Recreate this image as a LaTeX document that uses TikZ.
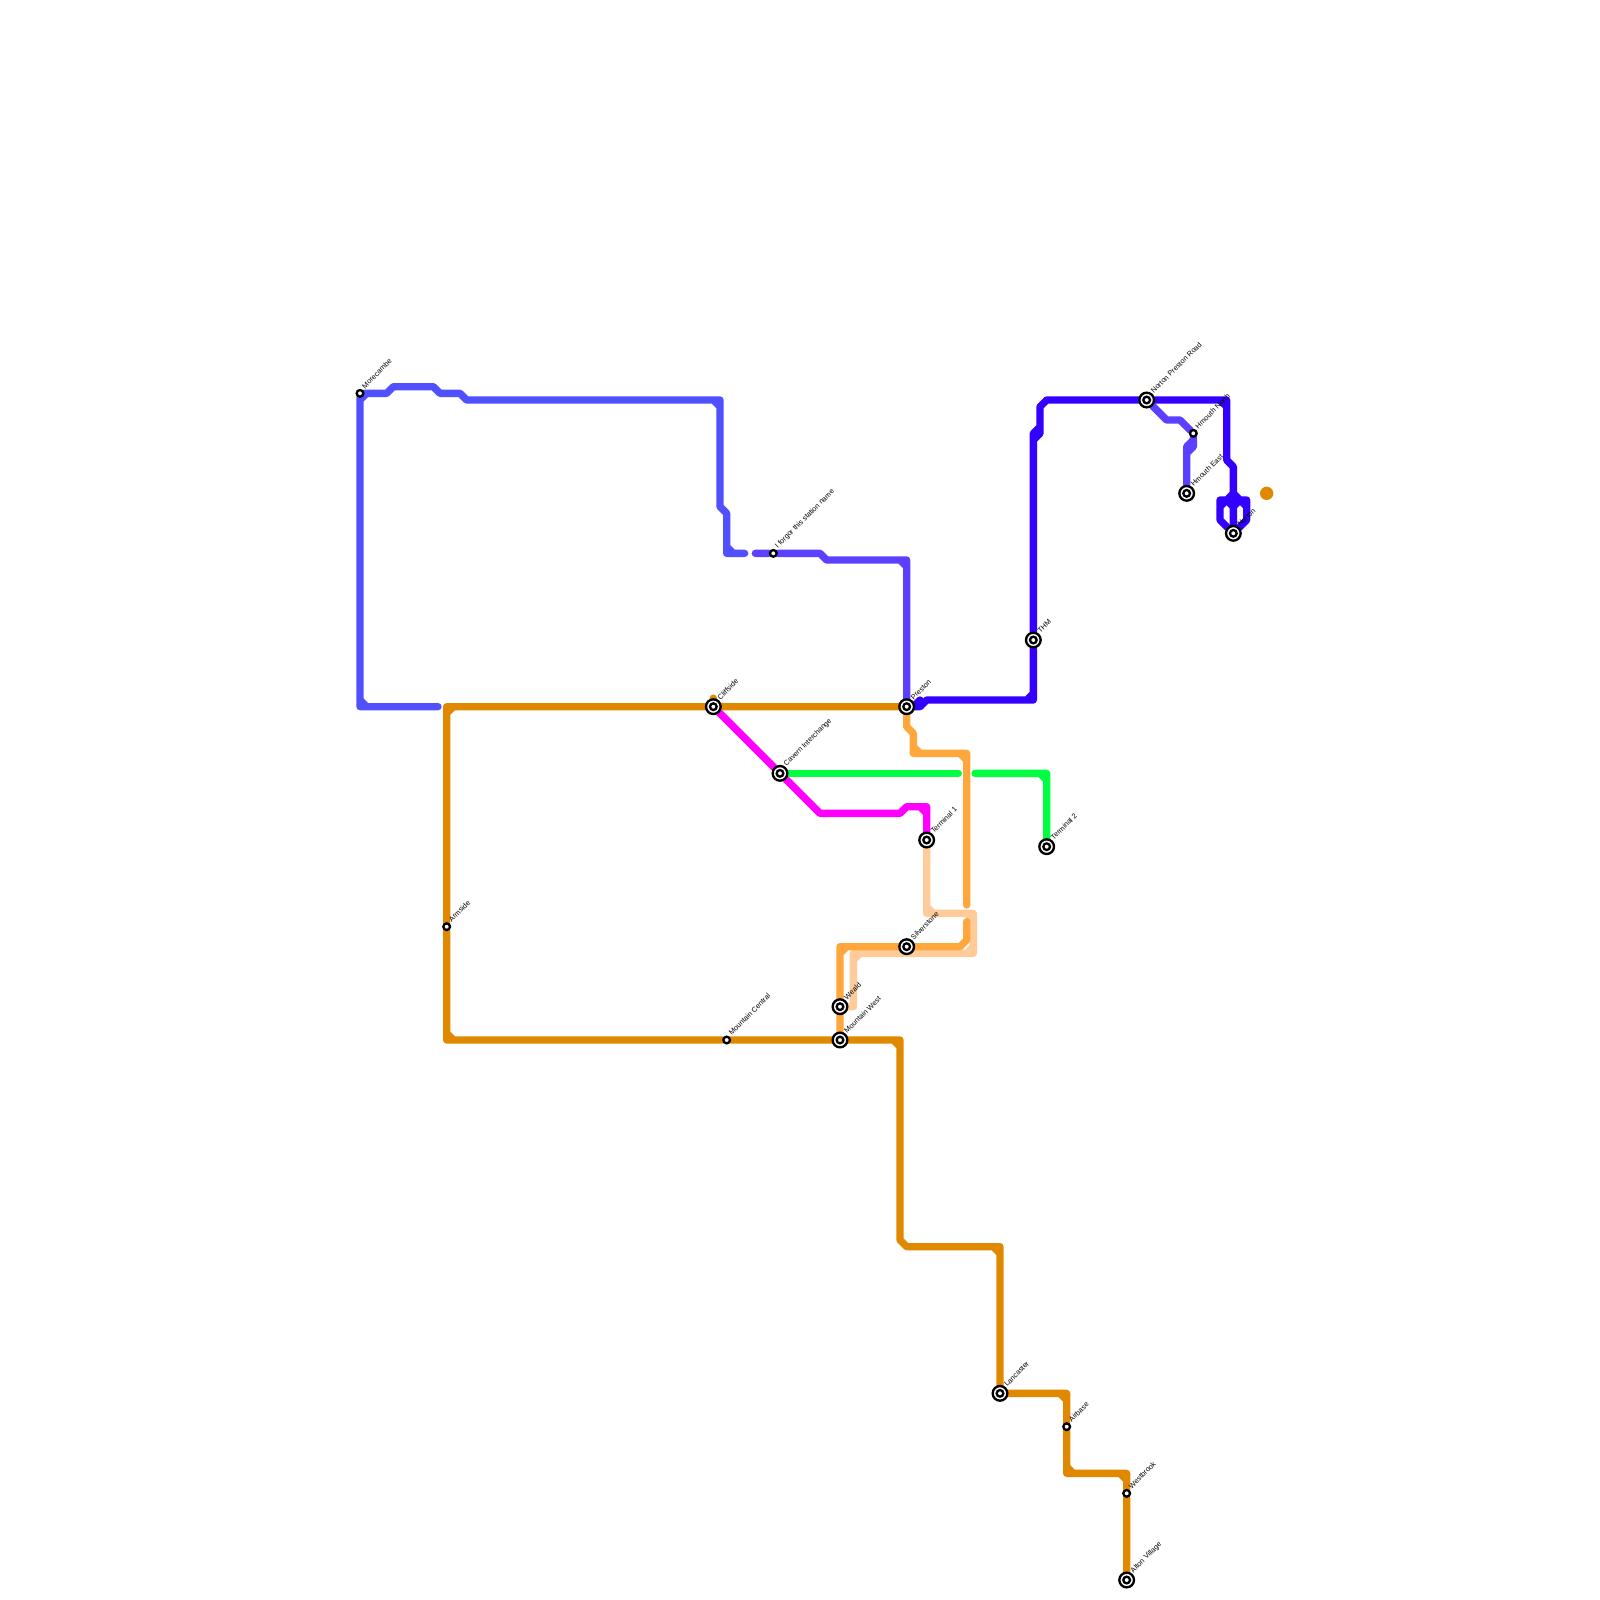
\documentclass[tikz,border=0pt]{standalone}
\usepackage{fontspec}
\setmainfont{Liberation Sans}
\usetikzlibrary{backgrounds}
\definecolor{westblue}{RGB}{80,80,255}
\definecolor{midblue}{RGB}{92,64,255}
\definecolor{deepblue}{RGB}{51,0,255}
\definecolor{darkorange}{RGB}{224,136,0}
\definecolor{midorange}{RGB}{255,166,61}
\definecolor{paleorange}{RGB}{255,204,153}
\definecolor{airportgreen}{RGB}{0,255,64}
\definecolor{loopmagenta}{RGB}{255,0,255}
\begin{document}
\begin{tikzpicture}[
      x=0.1cm, y=-0.1cm,
      route/.style={line width=0.11cm, line cap=round, line join=round},
      lbl/.style={font=\fontsize{3.1}{3.1}\selectfont, anchor=west, rotate=45, inner sep=0pt, text=black},
      halt/.style={circle, draw=black, line width=0.035cm, fill=white, minimum size=0.1cm, inner sep=0pt},
      hub/.style={circle, draw=black, line width=0.035cm, fill=white, minimum size=0.22cm, inner sep=0pt,
        path picture={\draw[line width=0.035cm] (path picture bounding box.center) circle (0.05cm);}},
      haltlbl/.style={lbl, xshift=0.025cm, yshift=0.03cm},
      hublbl/.style={lbl, xshift=0.01cm, yshift=0.03cm},
    ]
      \useasboundingbox (0,0) rectangle (240,240);
      % stations
      \node[halt,label={[haltlbl]45:Morecambe}] (morecambe) at (54,59) {};
      \node[halt,label={[haltlbl]45:Armside}] (armside) at (67,139) {};
      \node[hub,label={[hublbl]45:Cliffside}] (cliffside) at (107,106) {};
      \node[halt,label={[haltlbl]45:Mountain Central}] (mcentral) at (109,156) {};
      \node[halt,label={[haltlbl]45:I forgor this station name}] (forgor) at (116,83) {};
      \node[hub,label={[hublbl]45:Cavern Interchange}] (cavern) at (117,116) {};
      \node[hub,label={[hublbl]45:Weald}] (weald) at (126,151) {};
      \node[hub,label={[hublbl]45:Mountain West}] (mwest) at (126,156) {};
      \node[hub,label={[hublbl]45:Preston}] (preston) at (136,106) {};
      \node[hub,label={[hublbl]45:Silverstone}] (silverstone) at (136,142) {};
      \node[hub,label={[hublbl]45:Terminal 1}] (terma) at (139,126) {};
      \node[hub,label={[hublbl]45:Terminal 2}] (termb) at (157,127) {};
      \node[hub,label={[hublbl]45:THM}] (thm) at (155,96) {};
      \node[hub,label={[hublbl]45:Norton Preston Road}] (nprestonrd) at (172,60) {};
      \node[halt,label={[haltlbl]45:Hmouth North}] (hnorth) at (179,65) {};
      \node[hub,label={[hublbl]45:Hmouth East}] (heast) at (178,74) {};
      \node[hub,label={[hublbl]45:Norton}] (norton) at (185,80) {};
      \node[hub,label={[hublbl]45:Lancaster}] (lancaster) at (150,209) {};
      \node[halt,label={[haltlbl]45:Airbase}] (airbase) at (160,214) {};
      \node[halt,label={[haltlbl]45:Westbrook}] (westbrook) at (169,224) {};
      \node[hub,label={[hublbl]45:Alton Village}] (alton) at (169,237) {};
      \node[circle, fill=darkorange, minimum size=0.2cm, inner sep=0pt] (orangedot) at (190,74) {};
      \begin{scope}[on background layer]
      % coast line
      \draw[route, westblue] (65.7,106) -- (54,106) -- (morecambe) -- (58,59) -- (59,58) -- (65,58) -- (66,59)
        -- (69,59) -- (70,60) -- (108,60) -- (108,76) -- (109,77) -- (109,83) -- (111.7,83)
        (54,105) -- (55,106) (54,60) -- (55,59) (107,60) -- (108,61) (109,82) -- (110,83);
      % forgor to preston, hmouth branch
      \draw[route, midblue] (113.3,83) -- (forgor) -- (123,83) -- (124,84) -- (136,84) -- (preston)
        (135,84) -- (136,85);
      \draw[route, midblue] (nprestonrd) -- (175,63) -- (177,63) -- (hnorth) -- (179,67) -- (178,68) -- (heast)
        (179,66) -- (178,67) -- (178,68);
      % deep blue
      \draw[route, deepblue] (preston) -- (138,106) -- (139,105) -- (155,105) -- (thm) -- (155,65) -- (156,64)
        -- (156,61) -- (157,60) -- (nprestonrd) -- (184,60) -- (184,69) -- (185,70) -- (norton)
        (137,106) -- (138,105) (154,105) -- (155,104) (155,66) -- (156,65) -- (156,64) (183,60) -- (184,61);
      \draw[route, deepblue] (183,75) -- (187,75) -- (187,78) -- (norton) (183,75) -- (183,78) -- (norton)
        (183,76) -- (185,74) -- (187,76) (184,75) -- (185,76) -- (186,75);
      % dark orange
      \draw[route, darkorange] (67,106) -- (cliffside) -- (preston) (67,106) -- (armside) -- (67,156)
        -- (mcentral) -- (mwest) -- (135,156) -- (135,186) -- (136,187) -- (150,187) -- (lancaster)
        -- (160,209) -- (airbase) -- (160,221) -- (169,221) -- (westbrook) -- (alton)
        (67,107) -- (68,106) (67,155) -- (68,156) (134,156) -- (135,157) (149,187) -- (150,188)
        (159,209) -- (160,210) (160,220) -- (161,221) (168,221) -- (169,222)
        (107,105) -- (cliffside);
      % pale orange under mid orange
      \draw[route, paleorange] (terma) -- (139,137) -- (146,137) -- (146,143) -- (128,143) -- (128,151) -- (weald)
        (139,136) -- (140,137) (145,137) -- (146,138) (145,143) -- (146,142) (128,144) -- (129,143);
      % mid orange
      \draw[route, midorange] (preston) -- (136,109) -- (137,110) -- (137,113) -- (145,113) -- (145,135.75)
        (137,112) -- (138,113) (144,113) -- (145,114);
      \draw[route, midorange] (145,138.25) -- (145,141) -- (144,142) -- (silverstone) -- (126,142) -- (weald) -- (mwest)
        (126,143) -- (127,142);
      % magenta
      \draw[route, loopmagenta] (cliffside) -- (cavern) -- (123,122) -- (135,122) -- (136,121) -- (139,121) -- (terma)
        (138,121) -- (139,122);
      % green
      \draw[route, airportgreen] (cavern) -- (143.75,116);
      \draw[route, airportgreen] (146.25,116) -- (157,116) -- (termb) (156,116) -- (157,117);
      \end{scope}
    \end{tikzpicture}
\end{document}
